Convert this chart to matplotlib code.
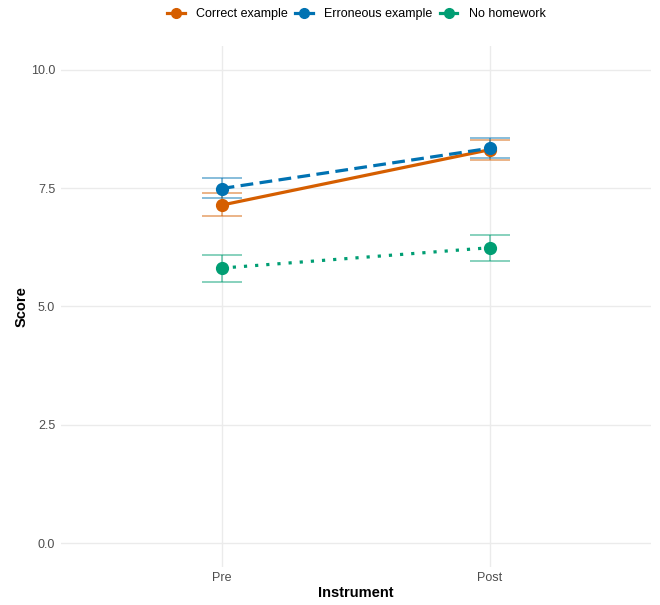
import matplotlib.pyplot as plt
from matplotlib.lines import Line2D

plt.rcParams['font.family'] = ['Liberation Sans', 'DejaVu Sans']

instruments = ['Pre', 'Post']
groups = ['Correct example', 'Erroneous example', 'No homework']
colors = ['#D55E00', '#0072B2', '#009E73']
styles = ['-', (0, (4, 2)), (0, (1, 2.5))]

mean_correct = [7.14, 8.31]
lo_correct = [6.91, 8.10]
hi_correct = [7.39, 8.52]

mean_erroneous = [7.49, 8.34]
lo_erroneous = [7.28, 8.13]
hi_erroneous = [7.71, 8.56]

mean_nohw = [5.81, 6.24]
lo_nohw = [5.52, 5.96]
hi_nohw = [6.08, 6.51]

means = [mean_correct, mean_erroneous, mean_nohw]
los = [lo_correct, lo_erroneous, lo_nohw]
his = [hi_correct, hi_erroneous, hi_nohw]

fig = plt.figure(figsize=(6.6, 6.05), dpi=100)
ax = fig.add_axes([0.092, 0.063, 0.894, 0.861])

x = [0, 1]
for g, c, ls, m, lo, hi in zip(groups, colors, styles, means, los, his):
    yerr = [[mi - l for mi, l in zip(m, lo)], [h - mi for mi, h in zip(m, hi)]]
    ax.errorbar(x, m, yerr=yerr, fmt='none', ecolor=c, alpha=0.55,
                elinewidth=1.2, capsize=14.5, capthick=1.2, zorder=2)
    ax.plot(x, m, color=c, linestyle=ls, linewidth=2.3, zorder=3)
    ax.plot(x, m, 'o', color=c, markersize=8.5, zorder=4)

ax.set_xlim(-0.6, 1.6)
ax.set_ylim(-0.5, 10.5)
ax.set_xticks(x)
ax.set_xticklabels(instruments)
ax.set_yticks([0, 2.5, 5, 7.5, 10])
ax.set_yticklabels(['0.0', '2.5', '5.0', '7.5', '10.0'])
ax.grid(True, color='#EBEBEB', linewidth=1)
ax.set_axisbelow(True)
for s in ax.spines.values():
    s.set_visible(False)
ax.tick_params(length=0, labelsize=9, colors='#4D4D4D', pad=4)
ax.set_xlabel('Instrument', fontsize=10.5, fontweight='bold')
ax.set_ylabel('Score', fontsize=10.5, fontweight='bold')
ax.xaxis.set_label_coords(0.5, -0.036)
ax.yaxis.set_label_coords(-0.054, 0.5)

handles = [Line2D([0], [0], color=c, marker='o', markersize=7, linewidth=2.3)
           for c in colors]
fig.legend(handles, groups, loc='center', bbox_to_anchor=(0.54, 0.977),
           ncol=3, frameon=False, fontsize=9, handlelength=1.4,
           handletextpad=0.9, columnspacing=0.6)

fig.savefig('out.png', dpi=100)
